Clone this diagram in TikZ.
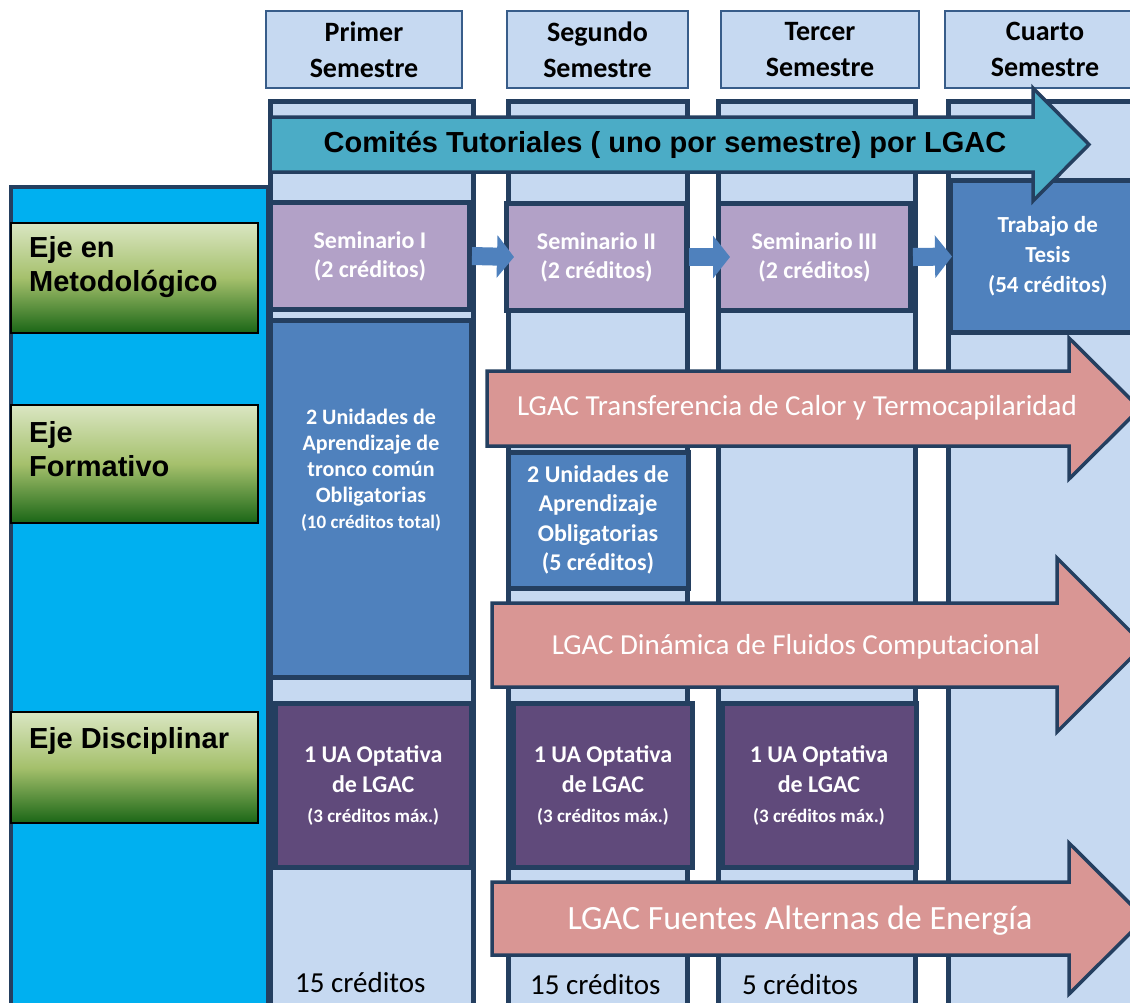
\documentclass[tikz,border=0pt]{standalone}
\usepackage{fontspec}
\setmainfont{Carlito}
\newfontfamily\arialfont{Liberation Sans}
\usetikzlibrary{arrows.meta}

\definecolor{navy}{RGB}{36,63,96}
\definecolor{colfill}{RGB}{198,217,241}
\definecolor{hdline}{RGB}{56,93,138}
\definecolor{panelcyan}{RGB}{0,176,240}
\definecolor{tealarrow}{RGB}{75,172,198}
\definecolor{lavender}{RGB}{178,161,199}
\definecolor{uablue}{RGB}{79,129,189}
\definecolor{uapurple}{RGB}{96,74,123}
\definecolor{salmon}{RGB}{217,150,148}
\definecolor{greentop}{RGB}{218,230,194}
\definecolor{greenmid}{RGB}{165,192,108}
\definecolor{greenbot}{RGB}{26,102,22}

\begin{document}
\begin{tikzpicture}[x=1pt, y=-1pt, inner sep=0pt,
    semhead/.style={draw=hdline, line width=1.5pt, fill=colfill, align=center, font=\fontsize{28}{36}\selectfont\bfseries},
    column/.style={draw=navy, line width=5pt, fill=colfill},
    ejebox/.style={draw=black, line width=1.5pt, top color=greentop, bottom color=greenbot, middle color=greenmid},
    ejetext/.style={anchor=west, align=left, font=\arialfont\bfseries\fontsize{29}{34}\selectfont},
    unit/.style={draw=navy, line width=5pt, align=center, text=white},
    band/.style={draw=navy, line width=3.5pt},
    bandtext/.style={text=white, font=\fontsize{29}{35}\selectfont},
    semarrow/.style={draw=uablue, line width=18pt, -{Triangle[length=17pt,width=42pt]}},
    credits/.style={anchor=west, font=\fontsize{29}{34}\selectfont}]

    \useasboundingbox (0,0) rectangle (1130,1002);

    % left panel and columns
    \node[draw=navy, line width=4pt, fill=panelcyan, minimum width=257, minimum height=823] (panel) at (139.5,598.5) {};
    \node[column, minimum width=203, minimum height=909] (col1) at (372,556) {};
    \node[column, minimum width=179, minimum height=909] (col2) at (598,556) {};
    \node[column, minimum width=197, minimum height=909] (col3) at (817,556) {};
    \node[column, minimum width=197, minimum height=909] (col4) at (1047,556) {};

    % ejes
    \node[ejebox, minimum width=247, minimum height=110] (metbox) at (134.5,278) {};
    \node[ejetext] (met) at (29,267) {Eje en\\Metodológico};
    \node[ejebox, minimum width=247, minimum height=118] (forbox) at (134.5,464) {};
    \node[ejetext] (for) at (29,449.5) {Eje\\Formativo};
    \node[ejebox, minimum width=247, minimum height=111] (disbox) at (134.5,767.5) {};
    \node[ejetext] (dis) at (29,741) {Eje Disciplinar};

    % semestres
    \node[semhead, minimum width=196, minimum height=77] (h1) at (364,49.5) {Primer\\Semestre};
    \node[semhead, minimum width=181, minimum height=77] (h2) at (597.5,49.5) {Segundo\\Semestre};
    \node[semhead, minimum width=198, minimum height=77] (h3) at (820,49.5) {Tercer\\Semestre};
    \node[semhead, minimum width=200, minimum height=77] (h4) at (1045,49.5) {Cuarto\\Semestre};

    % seminarios y tesis
    \node[unit, fill=lavender, minimum width=199, minimum height=107, font=\fontsize{24}{29}\selectfont\bfseries] (sem1) at (370,256) {Seminario I\\(2 créditos)};
    \node[unit, fill=lavender, minimum width=180, minimum height=107, font=\fontsize{24}{29}\selectfont\bfseries] (sem2) at (596.5,257) {Seminario II\\(2 créditos)};
    \node[unit, fill=lavender, minimum width=192, minimum height=107, font=\fontsize{24}{29}\selectfont\bfseries] (sem3) at (814.5,257) {Seminario III\\(2 créditos)};
    \node[unit, fill=uablue, minimum width=194.5, minimum height=152, font=\fontsize{23}{30}\selectfont\bfseries] (tesis) at (1047.75,256.5) {Trabajo de\\Tesis\\(54 créditos)};

    % unidades de aprendizaje
    \node[unit, fill=uablue, minimum width=201, minimum height=357] (tronco) at (371,499) {};
    \node[text=white, align=center, font=\fontsize{22}{26}\selectfont\bfseries] (troncotxt) at (371,470) {2 Unidades de\\Aprendizaje de\\tronco común\\Obligatorias\\\fontsize{19}{26}\selectfont (10 créditos total)};
    \node[unit, fill=uablue, minimum width=180, minimum height=136, font=\fontsize{24}{29.5}\selectfont\bfseries] (oblig) at (598,520) {2 Unidades de\\Aprendizaje\\Obligatorias\\(5 créditos)};
    \node[unit, fill=uapurple, minimum width=196.5, minimum height=164, font=\fontsize{24}{30}\selectfont\bfseries] (opt1) at (373.25,785) {1 UA Optativa\\de LGAC\\\fontsize{19}{30}\selectfont (3 créditos máx.)};
    \node[unit, fill=uapurple, minimum width=179, minimum height=164, font=\fontsize{24}{30}\selectfont\bfseries] (opt2) at (603,785.5) {1 UA Optativa\\de LGAC\\\fontsize{19}{30}\selectfont (3 créditos máx.)};
    \node[unit, fill=uapurple, minimum width=194, minimum height=164, font=\fontsize{24}{30}\selectfont\bfseries] (opt3) at (819,785.5) {1 UA Optativa\\de LGAC\\\fontsize{19}{30}\selectfont (3 créditos máx.)};

    % flechas grandes
    \draw[band, fill=tealarrow] (270,117) -- (1033,117) -- (1033,88) -- (1089,144.5) -- (1033,201) -- (1033,172) -- (270,172) -- cycle;
    \node[font=\arialfont\bfseries\fontsize{29}{35}\selectfont] (comites) at (665,145) {Comités Tutoriales ( uno por semestre) por LGAC};
    \draw[band, fill=salmon] (487,371) -- (1069,371) -- (1069,338) -- (1140,408.5) -- (1069,479) -- (1069,446) -- (487,446) -- cycle;
    \node[bandtext] (calor) at (797,408) {LGAC Transferencia de Calor y Termocapilaridad};
    \draw[band, fill=salmon] (492,603) -- (1057,603) -- (1057,558) -- (1144,645) -- (1057,732) -- (1057,687) -- (492,687) -- cycle;
    \node[bandtext] (fluidos) at (796,647) {LGAC Dinámica de Fluidos Computacional};
    \draw[band, fill=salmon] (492,882) -- (1069,882) -- (1069,843) -- (1145,918.5) -- (1069,994) -- (1069,955) -- (492,955) -- cycle;
    \node[bandtext, font=\fontsize{34}{40}\selectfont] (energia) at (800,921) {LGAC Fuentes Alternas de Energía};

    % secuencia de seminarios
    \draw[semarrow] (sem1.east) -- ([xshift=10pt]sem2.west);
    \draw[semarrow] (sem2.east) -- ([xshift=14pt]sem3.west);
    \draw[semarrow] (sem3.east) -- ([xshift=4pt]tesis.west);

    % creditos
    \node[credits] (cr1) at (295,983) {15 créditos};
    \node[credits] (cr2) at (530,985) {15 créditos};
    \node[credits] (cr3) at (742,985) {5 créditos};
\end{tikzpicture}
\end{document}
